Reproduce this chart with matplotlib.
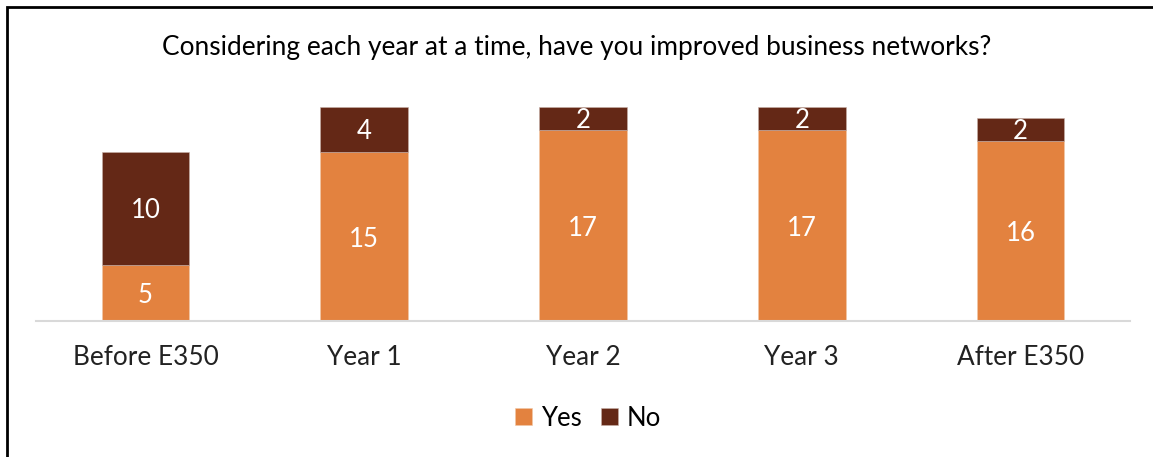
import numpy as np
import matplotlib.pyplot as plt
from matplotlib.patches import Rectangle

plt.rcParams['font.family'] = ['Lato', 'DejaVu Sans']

categories = ['Before E350', 'Year 1', 'Year 2', 'Year 3', 'After E350']
yes = [5, 15, 17, 17, 16]
no = [10, 4, 2, 2, 2]

c_yes = '#E3823F'
c_no = '#642816'

W, H = 1153, 457
fig = plt.figure(figsize=(W / 100, H / 100), dpi=100)

# plot area in pixel terms: baseline at y=321, 11.26 px per unit
x0, x1 = 36, 1130
y_base = 321
ppu = 11.26
ymax = 20
ax = fig.add_axes([x0 / W, 1 - y_base / H, (x1 - x0) / W, ymax * ppu / H])

x = np.arange(len(categories))
b1 = ax.bar(x, yes, width=0.4, color=c_yes, label='Yes', edgecolor='#F0C8A8', linewidth=0.4)
b2 = ax.bar(x, no, width=0.4, bottom=yes, color=c_no, label='No', edgecolor='#C8B0A8', linewidth=0.4)

for i in range(len(categories)):
    ax.annotate(str(yes[i]), (x[i], yes[i] / 2), xytext=(0, -2), textcoords='offset points',
                ha='center', va='center', color='white', fontsize=18.5)
    ax.annotate(str(no[i]), (x[i], yes[i] + no[i] / 2), xytext=(0, -1.5), textcoords='offset points',
                ha='center', va='center', color='white', fontsize=18.5)

ax.set_xlim(-0.5, len(categories) - 0.5)
ax.set_ylim(0, ymax)
ax.set_xticks(x)
ax.set_xticklabels(categories, fontsize=18.8, color='#222222')
ax.tick_params(axis='x', length=0, pad=17)
ax.set_yticks([])
for s in ['top', 'right', 'left']:
    ax.spines[s].set_visible(False)
ax.spines['bottom'].set_color('#D9D9D9')
ax.spines['bottom'].set_linewidth(1.5)

fig.text(0.5, 1 - 47 / H, 'Considering each year at a time, have you improved business networks?',
         ha='center', va='center', fontsize=18.9, color='black')

fig.legend(handles=[b1, b2], labels=['Yes', 'No'], loc='center', bbox_to_anchor=(588 / W, 1 - 418 / H),
           ncol=2, frameon=False, fontsize=18.5, handlelength=0.65, handleheight=0.65,
           handletextpad=0.35, columnspacing=0.75)

# outer frame (left and top edges)
fig.add_artist(Rectangle((6.5 / W, -0.1), 1.2, (H - 7) / H + 0.1, transform=fig.transFigure,
                         fill=False, edgecolor='black', linewidth=2))

fig.savefig('out.png', dpi=100)
